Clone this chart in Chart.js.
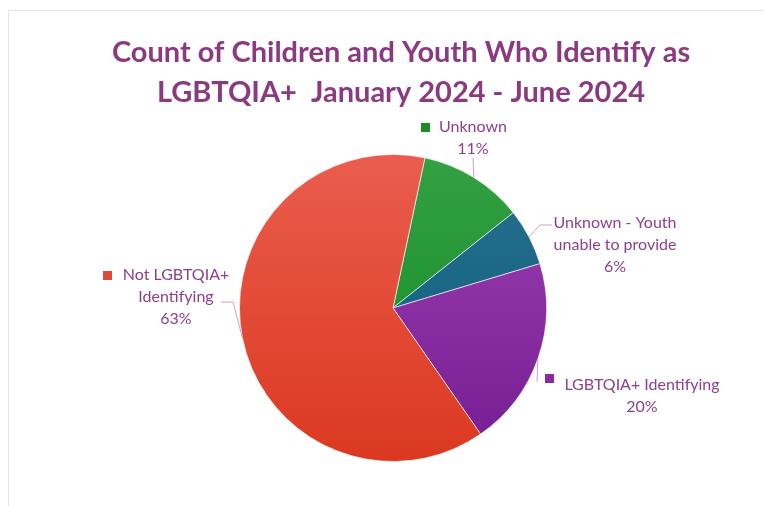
<!DOCTYPE html>
<html>
<head>
<meta charset="utf-8">
<script src="https://cdn.jsdelivr.net/npm/chart.js@4"></script>
<style>
  html, body { margin: 0; padding: 0; background: #fff; }
  #wrap { position: relative; width: 764px; height: 506px; overflow: hidden; }
  #frame { position: absolute; left: 8px; top: 10px; width: 800px; height: 600px; border: 1px solid #e6e3ea; }
  canvas { position: absolute; left: 0; top: 0; }
</style>
</head>
<body>
<div id="wrap">
  <div id="frame"></div>
  <canvas id="myChart" width="764" height="506"></canvas>
</div>
<script>
// chart data
var titleLines = ['Count of Children and Youth Who Identify as', 'LGBTQIA+  January 2024 - June 2024'];
var categories = ['Unknown', 'Unknown - Youth unable to provide', 'LGBTQIA+ Identifying', 'Not LGBTQIA+ Identifying'];
var percents = [11, 6, 20, 63];

// how each data label is broken into lines
var labelLines = [
    ['Unknown', '11%'],
    ['Unknown - Youth', 'unable to provide', '6%'],
    ['LGBTQIA+ Identifying', '20%'],
    ['Not LGBTQIA+', 'Identifying', '63%']
];

// slice colours (top / bottom of gradient) and legend key colour
var topColors = ['#33a044', '#27718f', '#9c42b3', '#ea5d4e'];
var bottomColors = ['#128a1f', '#0a5a7a', '#761c92', '#db3820'];
var keyColors = ['#1c8c28', null, '#8a2aa2', '#e0483a'];

// label placement relative to pie centre: text centre x, first line y, elbow point, key
var labelPos = [
    { x: 80, y: -181, elbow: [80, -150], key: [32, -181] },
    { x: 222, y: -85, elbow: [147, -83], key: null },
    { x: 249, y: 77, elbow: [144, 74], key: [156, 70] },
    { x: -217, y: -33, elbow: [-160, -6], key: [-286, -33] }
];

var textColor = '#8e3f8c';
var lineColor = '#c8a2c6';

var labelPlugin = {
    id: 'excelLabels',
    afterDraw: function (chart) {
        var c = chart.ctx;
        var meta = chart.getDatasetMeta(0);

        // title
        c.save();
        c.fillStyle = '#8b3a80';
        c.font = 'bold 29px Lato';
        c.textAlign = 'center';
        c.textBaseline = 'middle';
        c.fillText(titleLines[0], 401, 53);
        c.fillText(titleLines[1], 401, 93);
        c.restore();

        meta.data.forEach(function (arc, i) {
            var p = arc.getProps(['x', 'y', 'startAngle', 'endAngle', 'outerRadius'], true);
            var mid = (p.startAngle + p.endAngle) / 2;
            var ex = p.x + Math.cos(mid) * p.outerRadius;
            var ey = p.y + Math.sin(mid) * p.outerRadius;
            var pos = labelPos[i];

            // leader line
            c.save();
            c.strokeStyle = lineColor;
            c.lineWidth = 1;
            c.beginPath();
            c.moveTo(ex, ey);
            c.lineTo(p.x + pos.elbow[0], p.y + pos.elbow[1]);
            if (i === 1) c.lineTo(p.x + pos.elbow[0] + 12, p.y + pos.elbow[1]);
            if (i === 3) c.lineTo(p.x + pos.elbow[0] - 12, p.y + pos.elbow[1]);
            c.stroke();

            // text
            c.fillStyle = textColor;
            c.font = '16px Lato';
            c.textAlign = 'center';
            c.textBaseline = 'middle';
            labelLines[i].forEach(function (t, k) {
                c.fillText(t, p.x + pos.x, p.y + pos.y + k * 22);
            });

            // legend key
            if (pos.key && keyColors[i]) {
                c.fillStyle = keyColors[i];
                c.fillRect(p.x + pos.key[0] - 4, p.y + pos.key[1] - 4, 9, 9);
            }
            c.restore();
        });
    }
};

var ctx = document.getElementById('myChart').getContext('2d');
var chart = new Chart(ctx, {
    type: 'pie',
    data: {
        labels: categories,
        datasets: [{
            data: percents,
            backgroundColor: function (context) {
                var a = context.chart.chartArea;
                if (!a) return topColors[context.dataIndex];
                var g = context.chart.ctx.createLinearGradient(0, a.top, 0, a.bottom);
                g.addColorStop(0, topColors[context.dataIndex]);
                g.addColorStop(1, bottomColors[context.dataIndex]);
                return g;
            },
            borderColor: 'rgba(255,255,255,0.6)',
            borderWidth: 1
        }]
    },
    options: {
        responsive: false,
        animation: false,
        rotation: 12,
        layout: {
            padding: { top: 154, bottom: 44, left: 100, right: 78 }
        },
        plugins: {
            legend: { display: false },
            title: { display: false },
            tooltip: { enabled: false }
        }
    },
    plugins: [labelPlugin]
});
</script>
</body>
</html>
